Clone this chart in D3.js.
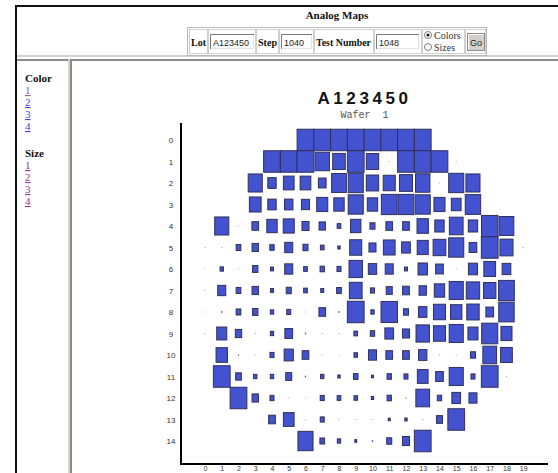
<!DOCTYPE html>
<html><head><meta charset="utf-8">
<script src="https://cdn.jsdelivr.net/npm/d3@7"></script>
<style>
html,body{margin:0;padding:0;background:#fff;overflow:hidden;}
svg{display:block;}
</style></head><body>
<svg id="page" width="558" height="473"></svg>
<script>
// ---------- data ----------
const pageTitle = "Analog Maps";
const lotValue = "A123450";
const stepValue = "1040";
const testNumberValue = "1048";
const waferLabel = "Wafer  1";
const colorLinks = ["1", "2", "3", "4"];
const sizeLinks = ["1", "2", "3", "4"];
const xTicks = [0,1,2,3,4,5,6,7,8,9,10,11,12,13,14,15,16,17,18,19];
const yTicks = [0,1,2,3,4,5,6,7,8,9,10,11,12,13,14];
const _ = null;
// analog value (0-100) for each die, row by row, column 0..19; null = no die
const row0  = [_,_,_,_,_,_,100,100,100,100,100,100,100,100,_,_,_,_,_,_];
const row1  = [_,_,_,_,100,100,100,86,75,100,74,3,100,100,100,3,_,_,_,_];
const row2  = [_,_,_,84,50,64,64,46,88,90,74,72,78,86,3,90,84,_,_,_];
const row3  = [_,_,_,70,50,50,48,66,62,90,62,94,94,90,66,58,92,_,_,_];
const row4  = [_,84,3,40,62,66,42,38,22,62,30,40,40,68,56,82,56,98,88,_];
const row5  = [2,3,28,38,26,48,30,22,14,72,42,70,52,66,76,90,46,100,78,2];
const row6  = [2,20,2,32,18,48,22,26,24,80,50,48,18,56,46,2,54,70,52,_];
const row7  = [2,48,28,38,18,30,22,18,28,76,24,36,40,44,62,84,80,74,94,_];
const row8  = [2,8,28,32,20,24,2,40,8,100,20,98,30,50,72,68,74,46,92,_];
const row9  = [2,60,38,2,20,46,8,2,2,22,26,52,42,80,72,84,60,96,66,_];
const row10 = [_,68,6,2,24,55,40,2,2,21,48,40,40,50,2,2,30,82,70,_];
const row11 = [_,100,34,20,20,36,8,20,14,27,12,26,24,64,46,84,24,100,2,_];
const row12 = [_,_,100,38,24,2,2,24,22,21,14,26,6,82,26,52,48,_,_,_];
const row13 = [_,_,_,_,40,64,2,24,2,2,2,12,14,2,36,100,_,_,_,_];
const row14 = [_,_,_,_,_,_,90,28,20,12,8,30,42,100,_,_,_,_,_,_];
const rows = [row0,row1,row2,row3,row4,row5,row6,row7,row8,row9,row10,row11,row12,row13,row14];

const cells = [];
rows.forEach((r, ri) => r.forEach((v, ci) => { if (v !== null) cells.push({row: ri, col: ci, value: v}); }));

// ---------- page chrome ----------
const svg = d3.select("#page");
svg.append("rect").attr("width", 558).attr("height", 473).attr("fill", "#fff");

svg.append("rect").attr("x", 15).attr("y", 5).attr("width", 543).attr("height", 2).attr("fill", "#111");
svg.append("rect").attr("x", 15).attr("y", 5).attr("width", 2).attr("height", 468).attr("fill", "#111");
svg.append("rect").attr("x", 17).attr("y", 55).attr("width", 541).attr("height", 2).attr("fill", "#d6d3cc");
svg.append("rect").attr("x", 17).attr("y", 59).attr("width", 541).attr("height", 2).attr("fill", "#8a8a8a");
svg.append("rect").attr("x", 68).attr("y", 59).attr("width", 2).attr("height", 414).attr("fill", "#d6d3cc");
svg.append("rect").attr("x", 70).attr("y", 61).attr("width", 2).attr("height", 412).attr("fill", "#8a8a8a");

svg.append("text").attr("x", 337).attr("y", 19).attr("text-anchor", "middle")
  .style("font", "bold 11px 'Liberation Serif', serif").attr("fill", "#111").text(pageTitle);

// form table
const tbl = svg.append("g");
tbl.append("rect").attr("x", 187.5).attr("y", 27.5).attr("width", 299).attr("height", 28)
  .attr("fill", "none").attr("stroke", "#b8b8b8");
const cellX = [[189,207],[208,255],[256,278],[279,313],[314,373],[374,421],[422,464],[465,485]];
cellX.forEach(([a, b]) => {
  tbl.append("rect").attr("x", a + 0.5).attr("y", 29.5).attr("width", b - a).attr("height", 24)
    .attr("fill", "none").attr("stroke", "#d0d0d0");
});
const labelFont = "bold 11px 'Liberation Serif', serif";
[["Lot", 191, 15], ["Step", 258, 19], ["Test Number", 316, 55]].forEach(([t, x, w]) => {
  tbl.append("text").attr("x", x).attr("y", 46).style("font", labelFont)
    .attr("textLength", w).attr("lengthAdjust", "spacingAndGlyphs").attr("fill", "#111").text(t);
});
function inputBox(x, w, val) {
  tbl.append("rect").attr("x", x).attr("y", 34).attr("width", w).attr("height", 15).attr("fill", "#fff");
  tbl.append("path").attr("d", `M${x+0.5},${49}V${34.5}H${x+w}`).attr("stroke", "#7a7a7a").attr("fill", "none");
  tbl.append("path").attr("d", `M${x+1.5},${48.5}H${x+w-0.5}V${35}`).attr("stroke", "#e2e2e2").attr("fill", "none");
  tbl.append("text").attr("x", x + 3).attr("y", 45.5).style("font", "9px 'Liberation Sans', Arial, sans-serif")
    .attr("fill", "#222").text(val);
}
inputBox(210, 44, lotValue);
inputBox(281, 31, stepValue);
inputBox(376, 43, testNumberValue);
[[35, "Colors", true], [47, "Sizes", false]].forEach(([cy, t, on]) => {
  tbl.append("circle").attr("cx", 428).attr("cy", cy).attr("r", 3.5).attr("fill", "#fff").attr("stroke", "#7a7a7a");
  if (on) tbl.append("circle").attr("cx", 428).attr("cy", cy).attr("r", 1.5).attr("fill", "#111");
  tbl.append("text").attr("x", 434).attr("y", cy + 3.5).style("font", "10px 'Liberation Serif', serif")
    .attr("fill", "#333").text(t);
});
tbl.append("rect").attr("x", 467.5).attr("y", 33.5).attr("width", 17).attr("height", 17)
  .attr("fill", "#d4d0c8").attr("stroke", "#8a8a8a");
tbl.append("path").attr("d", "M468.5,49.5V34.5H483.5").attr("stroke", "#fff").attr("fill", "none");
tbl.append("text").attr("x", 476).attr("y", 45.5).attr("text-anchor", "middle")
  .style("font", "9px 'Liberation Sans', Arial, sans-serif").attr("fill", "#222").text("Go");

// left navigation frame
const nav = svg.append("g");
nav.append("text").attr("x", 25).attr("y", 82).style("font", labelFont).attr("fill", "#111").text("Color");
const colorLinkFill = ["#8c5cbc", "#3d3dff", "#3d3dff", "#3d3dff"];
colorLinks.forEach((t, i) => {
  nav.append("text").attr("x", 25).attr("y", 94 + i * 12).style("font", "11px 'Liberation Serif', serif")
    .style("text-decoration", "underline").attr("fill", colorLinkFill[i]).text(t);
});
nav.append("text").attr("x", 25).attr("y", 157).style("font", labelFont).attr("fill", "#111").text("Size");
sizeLinks.forEach((t, i) => {
  nav.append("text").attr("x", 25).attr("y", 169 + i * 12).style("font", "11px 'Liberation Serif', serif")
    .style("text-decoration", "underline").attr("fill", "#993399").text(t);
});

// ---------- chart ----------
const x = d3.scaleLinear().domain([-1.433, 20.48]).range([181, 548]);
const y = d3.scaleLinear().domain([-0.79, 15.07]).range([123, 464]);
const size = d3.scaleLinear().domain([0, 100]).range([0, 1]);
const cw = x(1) - x(0), ch = y(1) - y(0);

svg.append("text").attr("x", 364.5).attr("y", 104).attr("text-anchor", "middle")
  .style("font", "bold 17px 'Liberation Sans', Arial, sans-serif").style("letter-spacing", "3.6px")
  .attr("fill", "#111").text(lotValue);
svg.append("text").attr("x", 364.5).attr("y", 118).attr("text-anchor", "middle")
  .style("font", "10px 'Liberation Mono', monospace").style("white-space", "pre")
  .attr("fill", "#555").text(waferLabel);

const g = svg.append("g");
g.selectAll("rect.die").data(cells).join("rect")
  .attr("class", "die")
  .attr("x", d => x(d.col) - Math.max(1, size(d.value) * cw) / 2)
  .attr("y", d => y(d.row) - Math.max(1, size(d.value) * ch) / 2)
  .attr("width", d => Math.max(1, size(d.value) * cw))
  .attr("height", d => Math.max(1, size(d.value) * ch))
  .attr("fill", d => d.value < 5 ? "#a8a8a8" : "#4353cf")
  .attr("stroke", d => d.value < 10 ? "none" : "#30305a")
  .attr("stroke-width", 1);

// axes
const yAxis = d3.axisLeft(y).tickValues(yTicks).tickSize(0).tickPadding(0);
const yg = svg.append("g").attr("transform", "translate(181,0)").call(yAxis);
yg.select(".domain").remove();
yg.selectAll("text").attr("x", -10).attr("text-anchor", "middle")
  .style("font", "8px 'Liberation Sans', Arial, sans-serif").attr("fill", "#333");

const xAxis = d3.axisBottom(x).tickValues(xTicks).tickSize(0).tickPadding(2);
const xg = svg.append("g").attr("transform", "translate(0,464)").call(xAxis);
xg.select(".domain").remove();
xg.selectAll("text").style("font", "7px 'Liberation Sans', Arial, sans-serif").attr("fill", "#333");

svg.append("line").attr("x1", x(-1.433)).attr("x2", x(-1.433)).attr("y1", y(-0.79)).attr("y2", y(15.07) + 1)
  .attr("stroke", "#000").attr("stroke-width", 2);
svg.append("line").attr("x1", x(-1.433) - 1).attr("x2", x(20.48)).attr("y1", y(15.07)).attr("y2", y(15.07))
  .attr("stroke", "#000").attr("stroke-width", 2);
</script>
</body></html>
